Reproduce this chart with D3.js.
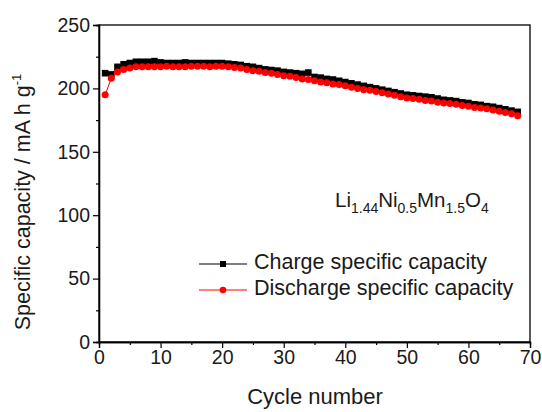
<!DOCTYPE html>
<html><head><meta charset="utf-8">
<script src="https://cdn.jsdelivr.net/npm/d3@7"></script>
<style>body{margin:0;background:#fff}svg{display:block;font-family:"Liberation Sans",Arial,sans-serif}</style>
</head><body>
<script>
const cycles = d3.range(1, 69);
const charge = [212,211,217,219,220,221,221,221,221.5,220.5,220,220,220,220.5,220,220,220,220,220,220,219.5,219,218.5,217.5,217,216,215,214.5,214,213,212.5,212,211.5,212.5,209,208.5,207.5,207,206,205,204,203,202,201,200,199,198,197,196,195,194.5,194,193.5,193,192,191,190.5,190,189,188.5,187.5,187,186,185.5,184.5,183.5,182.5,181.5];
const discharge = [195,208,213,215,216,217,217,217,217,217,217.5,217,217,217,217.5,217.5,217.5,217,217.5,217.5,217,216.5,216,215,214,213.5,212.5,212,211,210,209.5,208.5,207.5,207,206,205,204.5,203.5,203,202,201,200,199,198.5,197.5,196.5,195.5,194.5,193.5,192.5,192,191.5,190.5,190,189,188.5,188,187.5,186.5,186,185,184.5,184,183,182,181,180,178.5];
const xTicks = [0,10,20,30,40,50,60,70];
const yTicks = [0,50,100,150,200,250];
const seriesNames = ["Charge specific capacity","Discharge specific capacity"];

const W = 542, H = 412;
const m = {l: 99, r: 530, t: 25, b: 342};
const svg = d3.select("body").append("svg").attr("width", W).attr("height", H);
const x = d3.scaleLinear().domain([0,70]).range([m.l, m.r]);
const y = d3.scaleLinear().domain([0,250]).range([m.b, m.t]);

// frame
svg.append("rect").attr("x", m.l).attr("y", m.t).attr("width", m.r-m.l).attr("height", m.b-m.t)
  .attr("fill","none").attr("stroke","#000").attr("stroke-width",1.3);

// axes
const xMinor = d3.range(5,70,10);
const yMinor = d3.range(25,250,50);
const gx = svg.append("g").attr("transform",`translate(0,${m.b})`);
gx.call(d3.axisBottom(x).tickValues(xTicks).tickSize(6).tickPadding(2).tickFormat(d3.format("d")));
gx.append("g").call(d3.axisBottom(x).tickValues(xMinor).tickSize(3).tickFormat(""));
const gy = svg.append("g").attr("transform",`translate(${m.l},0)`);
gy.call(d3.axisLeft(y).tickValues(yTicks).tickSize(6).tickPadding(3).tickFormat(d3.format("d")));
gy.append("g").call(d3.axisLeft(y).tickValues(yMinor).tickSize(3).tickFormat(""));
svg.selectAll(".domain").attr("stroke","#000").attr("stroke-width",1.3);
svg.selectAll(".tick line").attr("stroke","#000").attr("stroke-width",1.2);
svg.selectAll(".tick text").attr("font-size",19.5).attr("fill","#1a1a1a").attr("font-family","Liberation Sans, Arial, sans-serif");

// axis titles
svg.append("text").attr("x", 315).attr("y", 404).attr("text-anchor","middle").attr("font-size",22).attr("fill","#1a1a1a").text("Cycle number");
const yt = svg.append("text").attr("transform","translate(30,202) rotate(-90)").attr("text-anchor","middle").attr("font-size",21.5).attr("fill","#1a1a1a");
yt.append("tspan").text("Specific capacity / mA h g");
yt.append("tspan").attr("font-size",13).attr("dy",-9).text("-1");

// series
const line = d3.line().x((d,i)=>x(cycles[i])).y(d=>y(d));
svg.append("path").datum(charge).attr("d", line).attr("fill","none").attr("stroke","#000").attr("stroke-width",1);
svg.append("g").selectAll("rect").data(charge).join("rect")
  .attr("x",(d,i)=>x(cycles[i])-3.3).attr("y",d=>y(d)-3.3).attr("width",6.6).attr("height",6.6).attr("fill","#000");
svg.append("path").datum(discharge).attr("d", line).attr("fill","none").attr("stroke","#ff0000").attr("stroke-width",1);
svg.append("g").selectAll("circle").data(discharge).join("circle")
  .attr("cx",(d,i)=>x(cycles[i])).attr("cy",d=>y(d)).attr("r",3.5).attr("fill","#ff0000");

// legend
const lg = [{c:"#000",shape:"sq",y:264},{c:"#ff0000",shape:"ci",y:290}];
lg.forEach((L,i)=>{
  svg.append("line").attr("x1",199).attr("x2",247).attr("y1",L.y).attr("y2",L.y).attr("stroke",L.c).attr("stroke-width",1.2);
  if (L.shape==="sq") svg.append("rect").attr("x",220).attr("y",L.y-3).attr("width",6).attr("height",6).attr("fill",L.c);
  else svg.append("circle").attr("cx",223).attr("cy",L.y).attr("r",3.3).attr("fill",L.c);
  svg.append("text").attr("x",254).attr("y",L.y+5).attr("font-size",21.5).attr("fill","#1a1a1a").text(seriesNames[i]);
});

// formula
const f = svg.append("text").attr("x",335).attr("y",207).attr("font-size",20.5).attr("fill","#1a1a1a");
const parts = [["Li","1.44"],["Ni","0.5"],["Mn","1.5"],["O","4"]];
parts.forEach(([el,sub])=>{
  f.append("tspan").attr("font-size",20.5).attr("dy", el==="Li"?0:-6).text(el);
  f.append("tspan").attr("font-size",14).attr("dy",6).text(sub);
});
</script>
</body></html>
